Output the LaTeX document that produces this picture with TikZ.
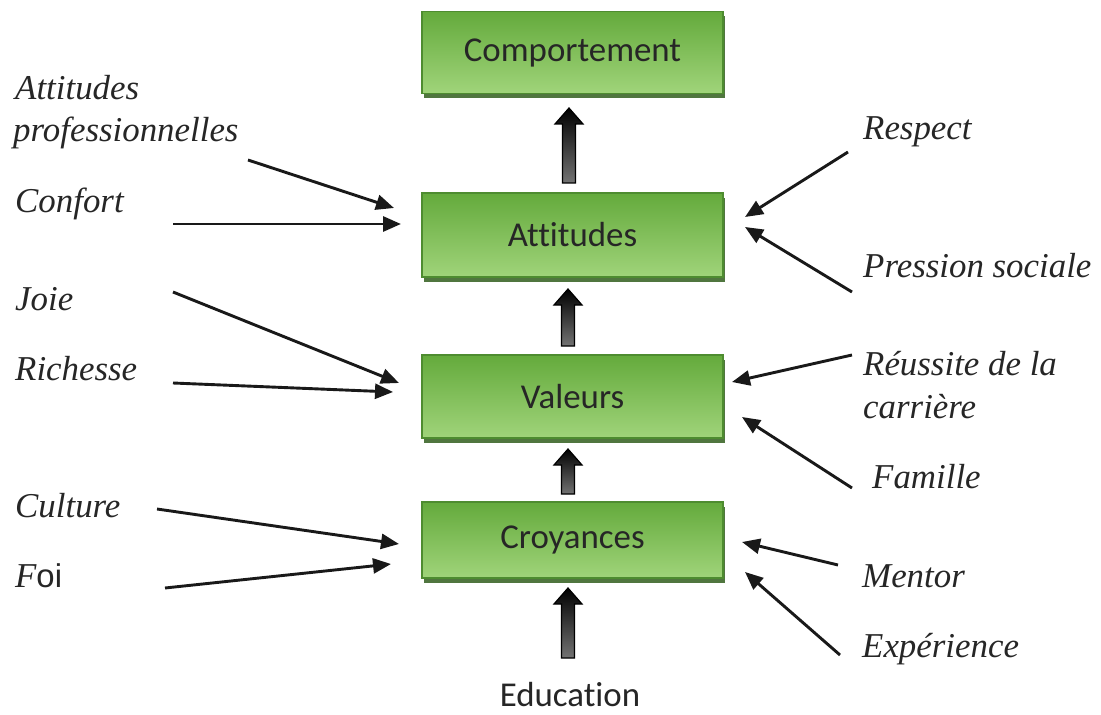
\documentclass[tikz,border=0pt]{standalone}
\usepackage{fontspec}
\setmainfont{Liberation Serif}
\newfontfamily\boxfont[Ligatures=NoCommon]{Carlito}
\newfontfamily\arialfont{Liberation Sans}
\usetikzlibrary{arrows.meta,shadows,calc}
\definecolor{gtop}{RGB}{100,170,60}
\definecolor{gmid}{RGB}{128,192,88}
\definecolor{gbot}{RGB}{160,212,122}
\definecolor{gline}{RGB}{78,140,48}
\definecolor{gshadow}{RGB}{50,95,30}
\tikzset{
  greenbox/.style={rectangle, draw=gline, line width=1.5bp, top color=gtop, middle color=gmid, bottom color=gbot,
    minimum width=301bp, inner sep=0pt, font=\boxfont\fontsize{35}{40}\selectfont, text=black!85,
    drop shadow={shadow xshift=2bp, shadow yshift=-5bp, fill=gshadow, opacity=0.85}},
  lab/.style={anchor=base west, inner sep=0pt, font=\itshape\fontsize{35}{40}\selectfont, text=black!85},
  sidearr/.style={line width=2.9bp, draw=black!90, -{Triangle[length=18bp,width=15bp]}},
  blockarr/.style={draw=black, line width=1.2bp, top color=black, bottom color=black!55},
}
\newcommand\blockup[2]{%
  \draw[blockarr] let \p1=(#1), \p2=(#2) in
    (\x1-6.5bp,\y2) -- (\x1-6.5bp,\y1-16bp) -- (\x1-14bp,\y1-16bp) -- (\x1,\y1)
    -- (\x1+14bp,\y1-16bp) -- (\x1+6.5bp,\y1-16bp) -- (\x1+6.5bp,\y2) -- cycle;}
\begin{document}
\begin{tikzpicture}[x=1bp,y=-1bp]
\useasboundingbox[fill=white] (0,0) rectangle (1101,715);
% boxes
\node[greenbox, minimum height=82bp] (comp) at (572.5,52.5) {Comportement};
\node[greenbox, minimum height=84bp] (att) at (572.5,235) {Attitudes};
\node[greenbox, minimum height=83bp] (val) at (572.5,396.5) {Valeurs};
\node[greenbox, minimum height=76bp] (croy) at (572.5,540) {Croyances};
\node[anchor=base, inner sep=0pt, font=\boxfont\fontsize{35}{40}\selectfont, text=black!85] (edu) at (570,706) {Education};
% block arrows
\coordinate (b1t) at (569,108); \coordinate (b1b) at (569,183);
\coordinate (b2t) at (568,289); \coordinate (b2b) at (568,346);
\coordinate (b3t) at (568,449); \coordinate (b3b) at (568,494);
\coordinate (b4t) at (568,588); \coordinate (b4b) at (568,658);
\blockup{b1t}{b1b}
\blockup{b2t}{b2b}
\blockup{b3t}{b3b}
\blockup{b4t}{b4b}
% left labels
\node[lab] (l1a) at (15,100) {Attitudes};
\node[lab] (l1b) at (13,142) {professionnelles};
\node[lab] (l2) at (15,213) {Confort};
\node[lab] (l3) at (15,310) {Joie};
\node[lab] (l4) at (15,380) {Richesse};
\node[lab] (l5) at (15,517) {Culture};
\node[lab] (l6) at (15,587) {F{\upshape\arialfont\fontsize{33}{40}\selectfont oi}};
% right labels
\node[lab] (r1) at (863,140) {Respect};
\node[lab] (r2) at (863,277) {Pression sociale};
\node[lab] (r3a) at (863,375) {Réussite de la};
\node[lab] (r3b) at (863,418) {carrière};
\node[lab] (r4) at (872,488) {Famille};
\node[lab] (r5) at (862,587) {Mentor};
\node[lab] (r6) at (862,657) {Expérience};
% arrow coordinates
\coordinate (s1) at (248,160); \coordinate (t1) at (394,208);
\coordinate (s2) at (173,224); \coordinate (t2) at (401,224);
\coordinate (s3) at (173,292); \coordinate (t3) at (399,383);
\coordinate (s4) at (173,383); \coordinate (t4) at (393,392);
\coordinate (s5) at (157,509); \coordinate (t5) at (399,544);
\coordinate (s6) at (165,588); \coordinate (t6) at (391,564);
\coordinate (s7) at (848,152); \coordinate (t7) at (745,217);
\coordinate (s8) at (852,292); \coordinate (t8) at (745,227);
\coordinate (s9) at (852,355); \coordinate (t9) at (732,382);
\coordinate (s10) at (852,488); \coordinate (t10) at (742,417);
\coordinate (s11) at (838,565); \coordinate (t11) at (742,542);
\coordinate (s12) at (840,655); \coordinate (t12) at (745,572);
\foreach \i in {1,...,12} {\draw[sidearr] (s\i) -- (t\i);}
\end{tikzpicture}
\end{document}
